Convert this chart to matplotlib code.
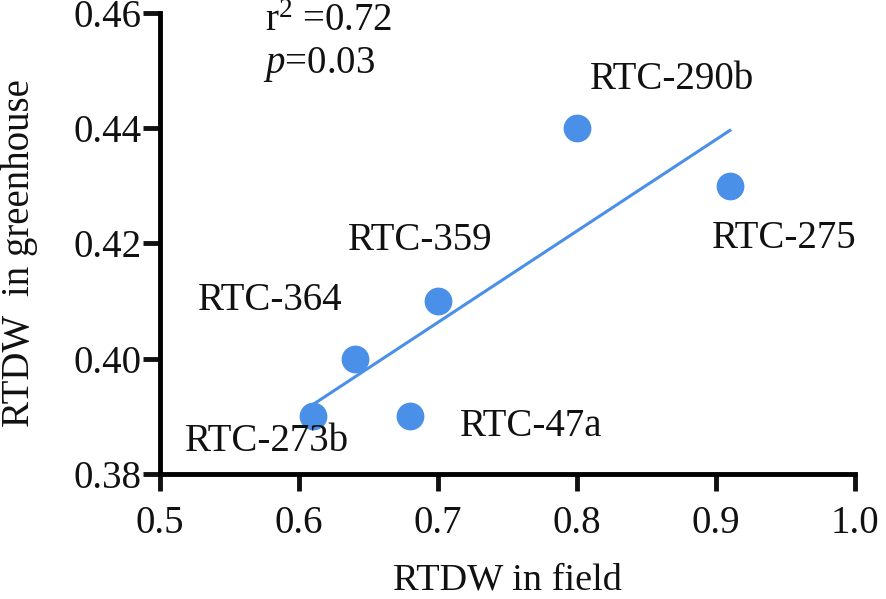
import numpy as np
import matplotlib
matplotlib.use("Agg")
import matplotlib.pyplot as plt

# RTDW values (field vs greenhouse) per line
lines = ["RTC-273b", "RTC-364", "RTC-47a", "RTC-359", "RTC-290b", "RTC-275"]
field = [0.61, 0.64, 0.68, 0.70, 0.80, 0.91]
greenhouse = [0.39, 0.40, 0.39, 0.41, 0.44, 0.43]

# label anchor (left, center) for each line, in data units
label_x = [0.518, 0.527, 0.716, 0.635, 0.809, 0.897]
label_y = [0.3856, 0.410, 0.3882, 0.4205, 0.4485, 0.4209]

r2_text = "r$^2$ =0.72"
p_text = "$\\it{p}$=0.03"

plt.rcParams["font.family"] = ["Liberation Serif", "DejaVu Serif"]
plt.rcParams["mathtext.fontset"] = "custom"
plt.rcParams["mathtext.rm"] = "Liberation Serif"
plt.rcParams["mathtext.it"] = "Liberation Serif:italic"

blue = "#4a8fe8"
ink = "#111111"

fig = plt.figure(figsize=(8.86, 5.99), dpi=100)
ax = fig.add_axes([0.1806, 0.2095, 0.7844, 0.768])

ax.scatter(field, greenhouse, s=20 ** 2, color=blue, zorder=3, linewidths=0)

# linear regression line over the observed field range
k, b = np.polyfit(field, greenhouse, 1)
xs = np.array([min(field), max(field)])
ax.plot(xs, k * xs + b, color=blue, lw=2.2, zorder=2)

for name, tx, ty in zip(lines, label_x, label_y):
    ax.text(tx, ty, name, fontsize=28, ha="left", va="center", color=ink)

ax.text(0.5755, 0.4586, r2_text, fontsize=28, ha="left", va="center", color=ink)
ax.text(0.5740, 0.4511, p_text, fontsize=28, ha="left", va="center", color=ink)

ax.set_xlim(0.5, 1.0)
ax.set_ylim(0.38, 0.46)
ax.set_xticks([0.5, 0.6, 0.7, 0.8, 0.9, 1.0])
ax.set_xticklabels(["0.5", "0.6", "0.7", "0.8", "0.9", "1.0"])
ax.set_yticks([0.38, 0.40, 0.42, 0.44, 0.46])
ax.set_yticklabels(["0.38", "0.40", "0.42", "0.44", "0.46"])

for side in ("top", "right"):
    ax.spines[side].set_visible(False)
for side in ("left", "bottom"):
    ax.spines[side].set_linewidth(3.5)
    ax.spines[side].set_capstyle("projecting")
ax.tick_params(direction="out", length=12, width=3.5, labelsize=28,
               colors=ink)
ax.tick_params(axis="x", pad=11)
ax.tick_params(axis="y", pad=1)

ax.set_xlabel("RTDW in field", fontsize=27.5, labelpad=15, color=ink)
ax.set_ylabel("RTDW  in greenhouse", fontsize=28, color=ink)
ax.yaxis.set_label_coords(-0.176, 0.48)

fig.savefig("out.png", dpi=100)
